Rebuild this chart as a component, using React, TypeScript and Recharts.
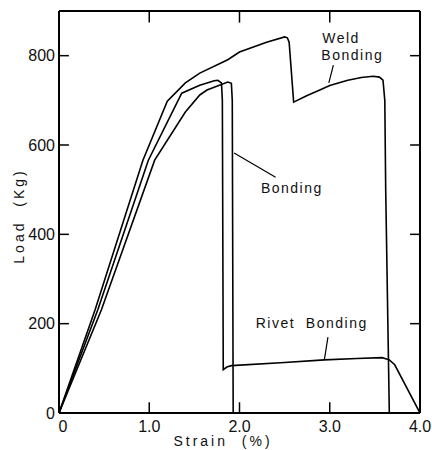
import React from 'react';
import { LineChart, Line, XAxis, YAxis, ReferenceDot, ReferenceLine } from 'recharts';

if (typeof document !== 'undefined') {
  document.body.style.margin = '0';
  document.body.style.overflow = 'hidden';
}

const xTicks = [0, 1, 2, 3, 4];
const yTicks = [0, 200, 400, 600, 800];
const xInnerTicks = [1, 2, 3];
const yInnerTicks = [200, 400, 600, 800];

const weldBonding = [
  { x: 0, y: 0 }, { x: 0.4, y: 231 }, { x: 0.93, y: 566 }, { x: 1.2, y: 698 },
  { x: 1.4, y: 739 }, { x: 1.56, y: 761 }, { x: 1.87, y: 791 }, { x: 2.0, y: 808 },
  { x: 2.3, y: 830 }, { x: 2.5, y: 842 }, { x: 2.53, y: 840 }, { x: 2.55, y: 830 },
  { x: 2.6, y: 696 }, { x: 2.75, y: 711 }, { x: 2.89, y: 723 }, { x: 3.0, y: 733 },
  { x: 3.2, y: 745 }, { x: 3.35, y: 751 }, { x: 3.48, y: 754 }, { x: 3.55, y: 752 },
  { x: 3.59, y: 745 }, { x: 3.61, y: 700 }, { x: 3.62, y: 500 }, { x: 3.66, y: 0 },
];

const rivetBonding = [
  { x: 0, y: 0 }, { x: 0.43, y: 231 }, { x: 0.99, y: 566 }, { x: 1.36, y: 716 },
  { x: 1.56, y: 734 }, { x: 1.72, y: 744 }, { x: 1.76, y: 745 }, { x: 1.8, y: 739 },
  { x: 1.81, y: 700 }, { x: 1.82, y: 97 }, { x: 1.86, y: 103 }, { x: 1.91, y: 106 },
  { x: 2.5, y: 113 }, { x: 2.94, y: 119 }, { x: 3.3, y: 122 }, { x: 3.58, y: 124 },
  { x: 3.66, y: 119 }, { x: 3.72, y: 108 }, { x: 4.0, y: 0 },
];

const bonding = [
  { x: 0, y: 0 }, { x: 0.47, y: 231 }, { x: 1.06, y: 566 }, { x: 1.4, y: 674 },
  { x: 1.56, y: 712 }, { x: 1.64, y: 723 }, { x: 1.87, y: 741 }, { x: 1.91, y: 738 },
  { x: 1.92, y: 700 }, { x: 1.93, y: 0 },
];

const FONT = '"Liberation Sans", Arial, sans-serif';
const X_MAX = 4;
const Y_MAX = 900;
// tick length expressed in axis units (~10px)
const X_TICK_LEN = 0.11;
const Y_TICK_LEN = 24;

const BottomTick = (props: any) => {
  const { x, y, payload } = props;
  const v = payload.value;
  const label = v === 0 ? '0' : v.toFixed(1);
  return (
    <text x={v === 0 ? x + 4 : x} y={y + 13} textAnchor="middle" dominantBaseline="central" fontSize={16} fontFamily={FONT} fill="#111">{label}</text>
  );
};

const LeftTick = (props: any) => {
  const { x, y, payload } = props;
  const v = payload.value;
  return (
    <text x={x - 4} y={y} textAnchor="end" dominantBaseline="central" fontSize={16} fontFamily={FONT} fill="#111">{v}</text>
  );
};

const EmptyTick = () => <g />;

const axisStyle = { stroke: '#000', strokeWidth: 2 };
const annot = { fill: '#111', fontSize: 14, fontFamily: FONT, letterSpacing: 1.5 } as any;

export default function App() {
  return (
    <LineChart width={432} height={450} margin={{ top: 10, right: 11, bottom: 0, left: 0 }}>
      <XAxis xAxisId="b" type="number" dataKey="x" domain={[0, X_MAX]} ticks={xTicks} allowDataOverflow
        tick={<BottomTick />} tickLine={false} tickSize={0} tickMargin={0} height={37}
        axisLine={axisStyle} interval={0} />
      <XAxis xAxisId="t" orientation="top" type="number" dataKey="x" domain={[0, X_MAX]} ticks={xTicks}
        tick={<EmptyTick />} tickLine={false} tickSize={0} tickMargin={0} height={1}
        axisLine={axisStyle} interval={0} />
      <YAxis yAxisId="l" type="number" domain={[0, Y_MAX]} ticks={yTicks} allowDataOverflow
        tick={<LeftTick />} tickLine={false} tickSize={0} tickMargin={0} width={59}
        axisLine={axisStyle} interval={0} />
      <YAxis yAxisId="r" orientation="right" type="number" domain={[0, Y_MAX]} ticks={yTicks}
        tick={<EmptyTick />} tickLine={false} tickSize={0} tickMargin={0} width={1}
        axisLine={axisStyle} interval={0} />

      {xInnerTicks.map((t) => (
        <ReferenceLine key={'xb' + t} xAxisId="b" yAxisId="l" ifOverflow="visible" segment={[{ x: t, y: 0 }, { x: t, y: Y_TICK_LEN }]} stroke="#000" strokeWidth={1.5} />
      ))}
      {xInnerTicks.map((t) => (
        <ReferenceLine key={'xt' + t} xAxisId="b" yAxisId="l" ifOverflow="visible" segment={[{ x: t, y: Y_MAX }, { x: t, y: Y_MAX - Y_TICK_LEN - 2 }]} stroke="#000" strokeWidth={1.5} />
      ))}
      {yInnerTicks.map((t) => (
        <ReferenceLine key={'yl' + t} xAxisId="b" yAxisId="l" ifOverflow="visible" segment={[{ x: 0, y: t }, { x: X_TICK_LEN, y: t }]} stroke="#000" strokeWidth={1.5} />
      ))}
      {yInnerTicks.map((t) => (
        <ReferenceLine key={'yr' + t} xAxisId="b" yAxisId="l" ifOverflow="visible" segment={[{ x: X_MAX, y: t }, { x: X_MAX - X_TICK_LEN, y: t }]} stroke="#000" strokeWidth={1.5} />
      ))}

      <Line xAxisId="b" yAxisId="l" data={weldBonding} dataKey="y" type="linear" dot={false} stroke="#000" strokeWidth={1.6} isAnimationActive={false} />
      <Line xAxisId="b" yAxisId="l" data={rivetBonding} dataKey="y" type="linear" dot={false} stroke="#000" strokeWidth={1.6} isAnimationActive={false} />
      <Line xAxisId="b" yAxisId="l" data={bonding} dataKey="y" type="linear" dot={false} stroke="#000" strokeWidth={1.6} isAnimationActive={false} />
      <Line xAxisId="t" yAxisId="r" data={[]} dataKey="y" dot={false} stroke="none" isAnimationActive={false} legendType="none" />

      <ReferenceLine xAxisId="b" yAxisId="l" segment={[{ x: 3.04, y: 779 }, { x: 2.99, y: 739 }]} stroke="#000" strokeWidth={1.2} />
      <ReferenceLine xAxisId="b" yAxisId="l" segment={[{ x: 2.4, y: 528 }, { x: 1.94, y: 582 }]} stroke="#000" strokeWidth={1.2} />
      <ReferenceLine xAxisId="b" yAxisId="l" segment={[{ x: 2.98, y: 170 }, { x: 2.94, y: 119 }]} stroke="#000" strokeWidth={1.2} />

      <ReferenceDot xAxisId="b" yAxisId="l" x={3.125} y={839} r={0} stroke="none" label={{ value: 'Weld', position: 'center', ...annot }} />
      <ReferenceDot xAxisId="b" yAxisId="l" x={3.25} y={801} r={0} stroke="none" label={{ value: 'Bonding', position: 'center', ...annot }} />
      <ReferenceDot xAxisId="b" yAxisId="l" x={2.58} y={504} r={0} stroke="none" label={{ value: 'Bonding', position: 'center', ...annot }} />
      <ReferenceDot xAxisId="b" yAxisId="l" x={2.8} y={201} r={0} stroke="none" label={{ value: 'Rivet\u00a0\u00a0Bonding', position: 'center', ...annot }} />

      <text x={223} y={441} textAnchor="middle" dominantBaseline="central" fontSize={14} fontFamily={FONT} letterSpacing={3} fill="#111">{'Strain\u00a0\u00a0(%)'}</text>
      <text x={19} y={216} textAnchor="middle" dominantBaseline="central" fontSize={14} fontFamily={FONT} letterSpacing={3} fill="#111" transform="rotate(-90 19 216)">{'Load\u00a0\u00a0(Kg)'}</text>
    </LineChart>
  );
}
